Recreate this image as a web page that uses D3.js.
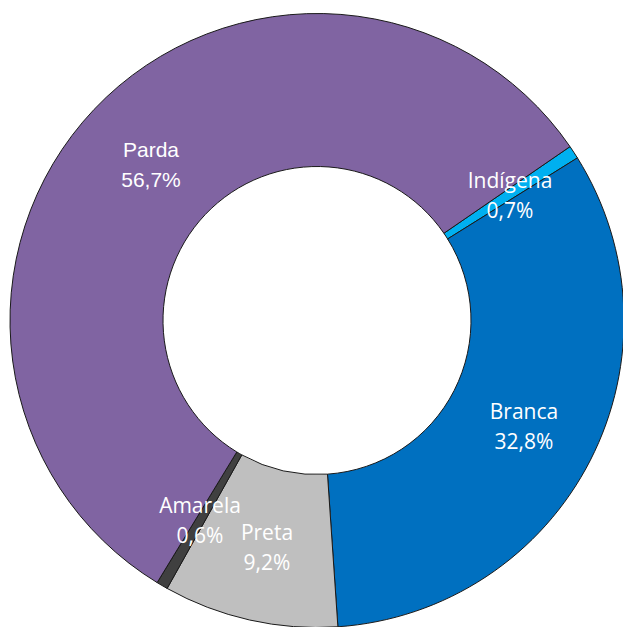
<!DOCTYPE html>
<html><head><meta charset="utf-8">
<script src="https://cdn.jsdelivr.net/npm/d3@7"></script>
<style>body{margin:0;background:#fff;overflow:hidden}</style>
</head><body>
<svg id="c" width="623" height="627"></svg>
<script>
const categories = ["Indígena","Branca","Preta","Amarela","Parda"];
const values = [0.7, 32.8, 9.2, 0.6, 56.7];
const valueLabels = ["0,7%","32,8%","9,2%","0,6%","56,7%"];
const colors = ["#00B0F0","#0070C0","#BFBFBF","#404040","#8064A2"];

const cx = 317, cy = 320.5, R = 307, r = 154;
const startDeg = 55.5;
const svg = d3.select("#c");
const g = svg.append("g").attr("transform",`translate(${cx},${cy})`);
const pie = d3.pie().sort(null).value(d=>d.v)
  .startAngle(startDeg*Math.PI/180).endAngle((startDeg+360)*Math.PI/180);
const data = categories.map((c,i)=>({c, v:values[i], lab:valueLabels[i], col:colors[i]}));
const arcs = pie(data);
const arc = d3.arc().innerRadius(r).outerRadius(R);
g.selectAll("path").data(arcs).enter().append("path")
  .attr("d",arc).attr("fill",d=>d.data.col)
  .attr("stroke","#1a1a1a").attr("stroke-width",1);

// label anchor points (reference positions, relative to centre) by category
const labelPos = {
  "Indígena":[510,188,"Open Sans"],
  "Branca":[524,419,"Open Sans"],
  "Preta":[267,540,"Open Sans"],
  "Amarela":[200,513,"Open Sans"],
  "Parda":[151,157,"Liberation Sans, Arial"]
};
const lg = svg.append("g");
arcs.forEach(a=>{
  const p = labelPos[a.data.c];
  const t = lg.append("text").attr("x",p[0]).attr("y",p[1])
    .attr("text-anchor","middle").attr("fill","#fff")
    .attr("font-family",p[2]).attr("font-size",21);
  t.append("tspan").attr("x",p[0]).text(a.data.c);
  t.append("tspan").attr("x",p[0]).attr("dy",29.5).text(a.data.lab);
});
</script>
</body></html>
